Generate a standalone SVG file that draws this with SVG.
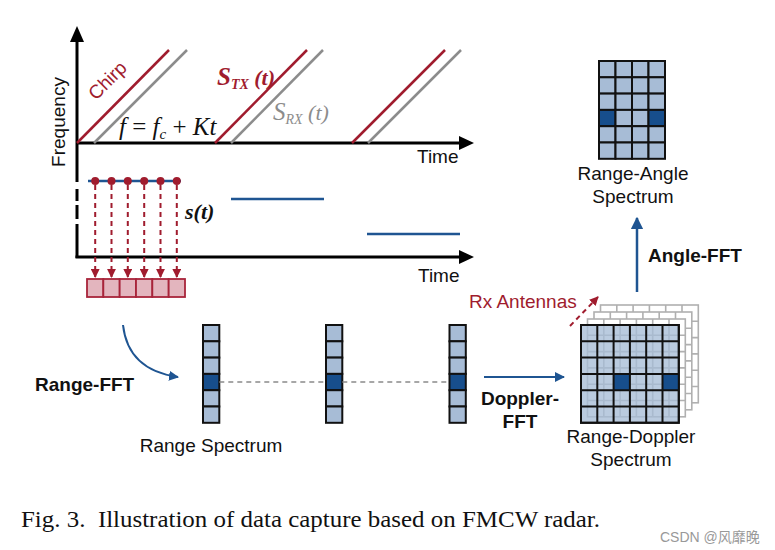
<svg xmlns="http://www.w3.org/2000/svg" width="775" height="550" viewBox="0 0 775 550">
<style>
.sans{font-family:"Liberation Sans",Arial,sans-serif}
.serif{font-family:"Liberation Serif","Times New Roman",serif}
.lbl{font-size:19px;fill:#111}
.bold{font-weight:bold}
.ax{stroke:#000;stroke-width:3;fill:none}
.tx{stroke:#A01C2E;stroke-width:2.5}
.rx{stroke:#8C8C8C;stroke-width:2.5}
.bl{stroke:#1F5592;stroke-width:2.5}
.cell{fill:#A7BCD6;stroke:#111;stroke-width:2}
.dark{fill:#174E8C;stroke:#111;stroke-width:2}
.back{fill:#fff;stroke:#B0B0B0;stroke-width:1.6}
.front{fill:#A7BCD6;fill-opacity:0.78;stroke:#111;stroke-width:2}
.pink{fill:#E3B5BE;stroke:#A8243A;stroke-width:1.8}
.rdash{stroke:#A01C2E;stroke-width:2;stroke-dasharray:5,4;fill:none}
</style>
<defs>
<marker id="ab" viewBox="0 0 10 10" refX="9" refY="5" markerWidth="5" markerHeight="5" orient="auto" markerUnits="strokeWidth"><path d="M0,0 L10,5 L0,10 z" fill="#1F5592"/></marker>
<marker id="ar" viewBox="0 0 10 10" refX="9" refY="5" markerWidth="4.5" markerHeight="4.5" orient="auto" markerUnits="strokeWidth"><path d="M0,0 L10,5 L0,10 z" fill="#A01C2E"/></marker>
</defs>
<rect width="775" height="550" fill="#fff"/>

<!-- top chart -->
<g id="chirp-chart">
<line class="ax" x1="77" y1="38" x2="77" y2="182"/>
<polygon points="77,26 70,42 84,42" fill="#000"/>
<line class="ax" x1="77" y1="143" x2="462" y2="143"/>
<polygon points="474,143 459,136 459,150" fill="#000"/>
<line class="tx" x1="77" y1="143" x2="169" y2="50"/>
<line class="rx" x1="94" y1="143" x2="187" y2="50"/>
<line class="tx" x1="215" y1="143" x2="307" y2="50"/>
<line class="rx" x1="231" y1="143" x2="323" y2="50"/>
<line class="tx" x1="352" y1="143" x2="445" y2="50"/>
<line class="rx" x1="368" y1="143" x2="461" y2="50"/>
<text class="sans" font-size="19" fill="#A01C2E" text-anchor="middle" transform="translate(112,85) rotate(-45)">Chirp</text>
<text class="sans lbl" text-anchor="middle" transform="translate(65,122) rotate(-90)">Frequency</text>
<text class="serif" x="119" y="135" font-size="25" fill="#111"><tspan font-style="italic">f</tspan> = <tspan font-style="italic">f</tspan><tspan font-style="italic" font-size="15" dy="4">c</tspan><tspan dy="-4"> + </tspan><tspan font-style="italic">Kt</tspan></text>
<text class="serif" x="217" y="85" font-size="25" fill="#A01C2E" font-weight="bold" font-style="italic">S<tspan font-size="14" dy="4">TX</tspan><tspan font-size="22" dy="-4"> (t)</tspan></text>
<text class="serif" x="273" y="120" font-size="25" fill="#8C8C8C" font-style="italic">S<tspan font-size="14" dy="4">RX</tspan><tspan font-size="22" dy="-4"> (t)</tspan></text>
<text class="sans lbl" x="417" y="163">Time</text>
</g>

<!-- lower chart -->
<g id="beat-chart">
<line class="ax" x1="77" y1="189" x2="77" y2="201"/>
<line class="ax" x1="77" y1="205" x2="77" y2="219"/>
<line class="ax" x1="77" y1="224" x2="77" y2="258"/>
<line class="ax" x1="75.5" y1="257" x2="462" y2="257"/>
<polygon points="474,257 459,250 459,264" fill="#000"/>
<line class="bl" x1="88" y1="181" x2="181" y2="181"/>
<line class="bl" x1="231" y1="199" x2="324" y2="199"/>
<line class="bl" x1="367" y1="234" x2="460" y2="234"/>
<text class="serif" x="185" y="219" font-size="22" font-weight="bold" font-style="italic" fill="#111">s(t)</text>
<text class="sans lbl" x="418" y="282">Time</text>
</g>

<!-- sampling -->
<g id="samples">
<g fill="#A01C2E">
<circle cx="95.2" cy="181" r="4"/><circle cx="111.5" cy="181" r="4"/><circle cx="127.8" cy="181" r="4"/>
<circle cx="144.2" cy="181" r="4"/><circle cx="160.5" cy="181" r="4"/><circle cx="176.8" cy="181" r="4"/>
</g>
<rect class="pink" x="87" y="279" width="16.33" height="18"/>
<rect class="pink" x="103.33" y="279" width="16.33" height="18"/>
<rect class="pink" x="119.67" y="279" width="16.33" height="18"/>
<rect class="pink" x="136" y="279" width="16.33" height="18"/>
<rect class="pink" x="152.33" y="279" width="16.33" height="18"/>
<rect class="pink" x="168.67" y="279" width="16.33" height="18"/>
</g>

<!-- range spectrum columns -->
<g id="range-col-1">
<rect class="cell" x="203" y="325" width="16.3" height="16.3"/>
<rect class="cell" x="203" y="341.3" width="16.3" height="16.3"/>
<rect class="cell" x="203" y="357.6" width="16.3" height="16.3"/>
<rect class="dark" x="203" y="373.9" width="16.3" height="16.3"/>
<rect class="cell" x="203" y="390.2" width="16.3" height="16.3"/>
<rect class="cell" x="203" y="406.5" width="16.3" height="16.3"/>
</g>
<g id="range-col-2">
<rect class="cell" x="326" y="325" width="16.3" height="16.3"/>
<rect class="cell" x="326" y="341.3" width="16.3" height="16.3"/>
<rect class="cell" x="326" y="357.6" width="16.3" height="16.3"/>
<rect class="dark" x="326" y="373.9" width="16.3" height="16.3"/>
<rect class="cell" x="326" y="390.2" width="16.3" height="16.3"/>
<rect class="cell" x="326" y="406.5" width="16.3" height="16.3"/>
</g>
<g id="range-col-3">
<rect class="cell" x="449.5" y="325" width="16.3" height="16.3"/>
<rect class="cell" x="449.5" y="341.3" width="16.3" height="16.3"/>
<rect class="cell" x="449.5" y="357.6" width="16.3" height="16.3"/>
<rect class="dark" x="449.5" y="373.9" width="16.3" height="16.3"/>
<rect class="cell" x="449.5" y="390.2" width="16.3" height="16.3"/>
<rect class="cell" x="449.5" y="406.5" width="16.3" height="16.3"/>
</g>
<g id="range-label">
<text class="sans lbl" x="211" y="452" text-anchor="middle">Range Spectrum</text>
<text class="sans lbl bold" x="35" y="391">Range-FFT</text>
</g>

<!-- range-doppler stack -->
<g id="range-doppler">
<g transform="translate(19.5,-20)">
<rect class="back" x="581" y="325" width="97.8" height="97.8"/>
<path class="back" fill="none" d="M597.3,325v97.8M613.6,325v97.8M629.9,325v97.8M646.2,325v97.8M662.5,325v97.8M581,341.3h97.8M581,357.6h97.8M581,373.9h97.8M581,390.2h97.8M581,406.5h97.8"/>
</g>
<g transform="translate(13,-13)">
<rect class="back" x="581" y="325" width="97.8" height="97.8"/>
<path class="back" fill="none" d="M597.3,325v97.8M613.6,325v97.8M629.9,325v97.8M646.2,325v97.8M662.5,325v97.8M581,341.3h97.8M581,357.6h97.8M581,373.9h97.8M581,390.2h97.8M581,406.5h97.8"/>
</g>
<g transform="translate(6.5,-6)">
<rect class="back" x="581" y="325" width="97.8" height="97.8"/>
<path class="back" fill="none" d="M597.3,325v97.8M613.6,325v97.8M629.9,325v97.8M646.2,325v97.8M662.5,325v97.8M581,341.3h97.8M581,357.6h97.8M581,373.9h97.8M581,390.2h97.8M581,406.5h97.8"/>
</g>
<rect class="front" x="581" y="325" width="97.8" height="97.8"/>
<rect fill="#174E8C" x="613.6" y="373.9" width="16.3" height="16.3"/>
<rect fill="#174E8C" x="662.5" y="373.9" width="16.3" height="16.3"/>
<path fill="none" stroke="#111" stroke-width="2" d="M581,325h97.8v97.8h-97.8zM597.3,325v97.8M613.6,325v97.8M629.9,325v97.8M646.2,325v97.8M662.5,325v97.8M581,341.3h97.8M581,357.6h97.8M581,373.9h97.8M581,390.2h97.8M581,406.5h97.8"/>
<text class="sans lbl" x="631" y="443" text-anchor="middle">Range-Doppler</text>
<text class="sans lbl" x="631" y="466" text-anchor="middle">Spectrum</text>
<text class="sans" x="469" y="308" font-size="19" fill="#A01C2E">Rx Antennas</text>
</g>

<!-- range-angle -->
<g id="range-angle">
<rect class="cell" x="599" y="61" width="16.5" height="16.3"/><rect class="cell" x="615.5" y="61" width="16.5" height="16.3"/><rect class="cell" x="632" y="61" width="16.5" height="16.3"/><rect class="cell" x="648.5" y="61" width="16.5" height="16.3"/>
<rect class="cell" x="599" y="77.3" width="16.5" height="16.3"/><rect class="cell" x="615.5" y="77.3" width="16.5" height="16.3"/><rect class="cell" x="632" y="77.3" width="16.5" height="16.3"/><rect class="cell" x="648.5" y="77.3" width="16.5" height="16.3"/>
<rect class="cell" x="599" y="93.6" width="16.5" height="16.3"/><rect class="cell" x="615.5" y="93.6" width="16.5" height="16.3"/><rect class="cell" x="632" y="93.6" width="16.5" height="16.3"/><rect class="cell" x="648.5" y="93.6" width="16.5" height="16.3"/>
<rect class="dark" x="599" y="109.9" width="16.5" height="16.3"/><rect class="cell" x="615.5" y="109.9" width="16.5" height="16.3"/><rect class="cell" x="632" y="109.9" width="16.5" height="16.3"/><rect class="dark" x="648.5" y="109.9" width="16.5" height="16.3"/>
<rect class="cell" x="599" y="126.2" width="16.5" height="16.3"/><rect class="cell" x="615.5" y="126.2" width="16.5" height="16.3"/><rect class="cell" x="632" y="126.2" width="16.5" height="16.3"/><rect class="cell" x="648.5" y="126.2" width="16.5" height="16.3"/>
<rect class="cell" x="599" y="142.5" width="16.5" height="16.3"/><rect class="cell" x="615.5" y="142.5" width="16.5" height="16.3"/><rect class="cell" x="632" y="142.5" width="16.5" height="16.3"/><rect class="cell" x="648.5" y="142.5" width="16.5" height="16.3"/>
<text class="sans lbl" x="633" y="180" text-anchor="middle">Range-Angle</text>
<text class="sans lbl" x="633" y="203" text-anchor="middle">Spectrum</text>
</g>

<!-- connectors -->
<g id="connectors">
<line class="rdash" x1="95.2" y1="185" x2="95.2" y2="277" marker-end="url(#ar)"/>
<line class="rdash" x1="111.5" y1="185" x2="111.5" y2="277" marker-end="url(#ar)"/>
<line class="rdash" x1="127.8" y1="185" x2="127.8" y2="277" marker-end="url(#ar)"/>
<line class="rdash" x1="144.2" y1="185" x2="144.2" y2="277" marker-end="url(#ar)"/>
<line class="rdash" x1="160.5" y1="185" x2="160.5" y2="277" marker-end="url(#ar)"/>
<line class="rdash" x1="176.8" y1="185" x2="176.8" y2="277" marker-end="url(#ar)"/>
<path d="M123,325 Q128,370 178,377" fill="none" stroke="#1F5592" stroke-width="2" marker-end="url(#ab)"/>
<line x1="219.3" y1="382" x2="326" y2="382" stroke="#8A8A8A" stroke-width="1.6" stroke-dasharray="5,4"/>
<line x1="342.3" y1="382" x2="449.5" y2="382" stroke="#8A8A8A" stroke-width="1.6" stroke-dasharray="5,4"/>
<line x1="484" y1="377" x2="564" y2="377" stroke="#1F5592" stroke-width="2" marker-end="url(#ab)"/>
<line class="rdash" x1="570" y1="326" x2="598" y2="297" marker-end="url(#ar)"/>
<line x1="637" y1="292" x2="637" y2="218" stroke="#1F5592" stroke-width="2.5" marker-end="url(#ab)"/>
<text class="sans lbl bold" x="520" y="405" text-anchor="middle">Doppler-</text>
<text class="sans lbl bold" x="520" y="428" text-anchor="middle">FFT</text>
<text class="sans lbl bold" x="648" y="262">Angle-FFT</text>
</g>

<!-- caption -->
<g id="caption">
<text class="serif" x="21" y="527" font-size="23" fill="#111" textLength="579" lengthAdjust="spacingAndGlyphs" xml:space="preserve">Fig. 3.  Illustration of data capture based on FMCW radar.</text>
<text x="660" y="542" font-size="14" fill="#999" font-family="'Liberation Sans','Noto Sans CJK SC',sans-serif">CSDN @风靡晚</text>
</g>
</svg>
